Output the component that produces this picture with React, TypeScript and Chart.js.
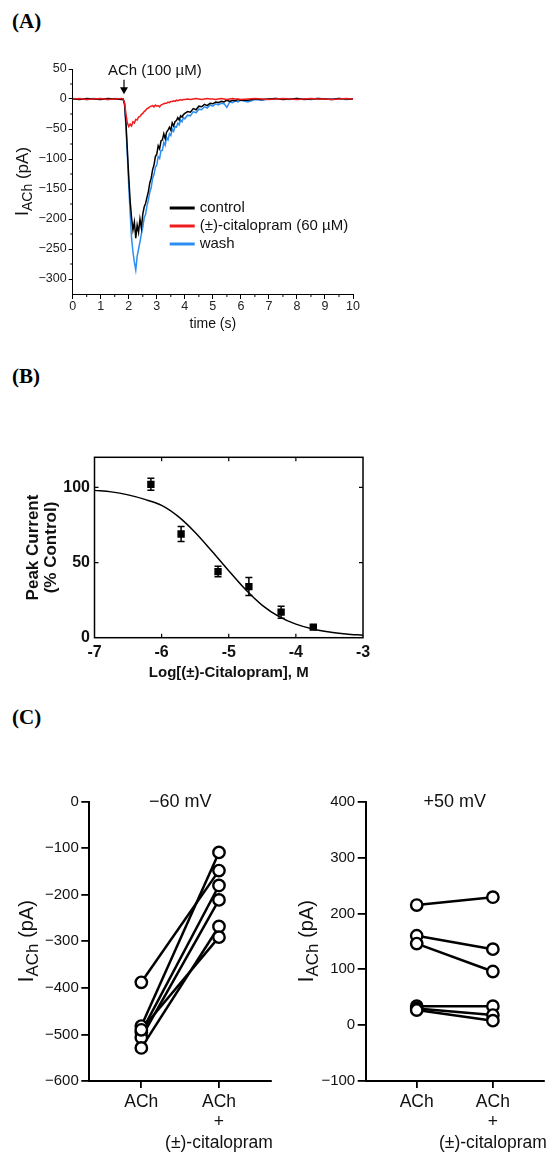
import React, { useEffect, useRef } from 'react';
import { Chart, registerables } from 'chart.js';

Chart.register(...registerables);

const SANS = '"Liberation Sans", Arial, Helvetica, sans-serif';
const SERIF = '"Liberation Serif", "Times New Roman", serif';
const INK = '#111111';

// ---------------- Panel A: current traces ----------------
const traceTimes = [
  0, 0.25, 0.5, 0.75, 1, 1.25, 1.5, 1.75, 1.8,
  1.85, 1.9, 1.95, 2, 2.05, 2.1, 2.15, 2.2, 2.25, 2.3, 2.35, 2.4, 2.45, 2.5, 2.55, 2.6, 2.65, 2.7, 2.75, 2.8, 2.85, 2.9, 2.95, 3,
  3.05, 3.1, 3.15, 3.2, 3.25, 3.3, 3.35, 3.4, 3.45, 3.5, 3.55, 3.6, 3.65, 3.7, 3.75, 3.8, 3.85, 3.9, 3.95, 4,
  4.1, 4.2, 4.3, 4.4, 4.5, 4.6, 4.7, 4.8, 4.9, 5, 5.1, 5.2, 5.3, 5.4, 5.5, 5.6, 5.7, 5.8, 5.9, 6,
  6.25, 6.5, 6.75, 7, 7.25, 7.5, 7.75, 8, 8.25, 8.5, 8.75, 9, 9.25, 9.5, 9.75, 10,
];
const controlTrace = [
  0, -1, 1, 0, -1, 1, 0, -1, 0,
  -8, -40, -85, -130, -170, -198, -218, -205, -232, -210, -222, -200, -215, -192, -180, -174, -164, -154, -140, -132, -118, -110, -96, -92,
  -78, -83, -70, -68, -58, -66, -55, -52, -47, -52, -40, -45, -38, -36, -31, -35, -28, -30, -26, -24,
  -21, -22, -16, -18, -12, -13, -9, -11, -7, -8, -5, -6, -4, -5, -2, -4, -2, -3, -1, -2,
  -2, 0, -1, 0, 1, -1, 0, 1, -1, 0, 1, 0, -1, 1, 0, 0,
];
const citalopramTrace = [
  0, 1, -1, 0, 1, -1, 0, 1, 0,
  -6, -25, -40, -46, -42, -45, -38, -40, -34, -35, -30, -29, -26, -24, -21, -19, -16, -15, -13, -12, -11, -13, -10, -12,
  -11, -13, -10, -9, -8, -7, -7, -5, -6, -4, -4, -3, -4, -2, -3, -2, -1, -2, -1, -1,
  0, -1, 0, 1, 0, -1, 0, 1, 0, 0, -1, 0, 1, 0, -1, 0, 1, 0, 0, -1,
  0, 1, 0, -1, 0, 1, 0, -1, 0, 1, 0, 0, -1, 0, 1, 0,
];
const washTrace = [
  1, 0, -1, 1, 0, -1, 1, 0, 0,
  -10, -45, -95, -145, -190, -232, -255, -272, -285, -262, -250, -238, -225, -214, -198, -192, -178, -168, -155, -148, -132, -126, -114, -110,
  -96, -99, -86, -86, -72, -77, -64, -68, -58, -61, -50, -54, -46, -47, -40, -43, -35, -38, -31, -33,
  -27, -28, -21, -23, -17, -18, -13, -15, -10, -12, -8, -10, -7, -8, -14, -5, -6, -3, -5, -2,
  -5, -1, -2, 0, 1, 0, -1, 1, 0, -1, 1, 0, 0, 1, -1, 0,
];
const traceNames = ['control', '(±)-citalopram (60 µM)', 'wash'];
const traceColors = ['#000000', '#ee1c1c', '#2b8ef0'];
const stimulusTime = 1.83;
const stimulusLabel = 'ACh (100 µM)';

// ---------------- Panel B: concentration-response ----------------
const logConc = [-6.16, -5.71, -5.16, -4.7, -4.22, -3.74];
const peakMean = [102, 69, 44, 34, 17, 7];
const peakSem = [4, 5, 3.5, 6, 4, 1.5];
const fitLog = [-7, -6.75, -6.5, -6.25, -6, -5.75, -5.5, -5.25, -5, -4.75, -4.5, -4.25, -4, -3.75, -3.5, -3.25, -3];
const fitPct = [98, 97, 95, 92, 88, 80.5, 70, 57.5, 44.5, 32, 21.5, 14, 9, 5.8, 3.8, 2.5, 1.6];

// ---------------- Panel C: paired currents ----------------
const condLabels = [['ACh'], ['ACh', '+', '(±)-citalopram']];
const negTitle = '\u221260 mV';
const negAch = [-388, -482, -495, -507, -529, -490];
const negCit = [-148, -109, -180, -211, -268, -291];
const posTitle = '+50 mV';
const posAch = [215, 160, 146, 34, 30, 27];
const posCit = [229, 136, 96, 34, 18, 8];

const uMinus = (v: number) => (v < 0 ? '\u2212' + Math.abs(v) : String(v));

const zeroPad = (s: any) => {
  s.paddingLeft = 0;
  s.paddingRight = 0;
  s.paddingTop = 0;
  s.paddingBottom = 0;
};

function yTitlePlugin(id: string, offsetFromAxis: number, main: number, sub: number, unit: number, subShift: number) {
  return {
    id,
    afterDraw(chart: any) {
      const { ctx, chartArea } = chart;
      const parts = [
        { text: 'I', size: main, shift: 0 },
        { text: 'ACh', size: sub, shift: subShift },
        { text: ' (pA)', size: unit, shift: 0 },
      ];
      ctx.save();
      ctx.fillStyle = INK;
      ctx.textBaseline = 'alphabetic';
      ctx.textAlign = 'left';
      const widths = parts.map((p) => {
        ctx.font = `${p.size}px ${SANS}`;
        return ctx.measureText(p.text).width;
      });
      const total = widths.reduce((a, b) => a + b, 0);
      ctx.translate(chartArea.left - offsetFromAxis, (chartArea.top + chartArea.bottom) / 2);
      ctx.rotate(-Math.PI / 2);
      let cx = -total / 2;
      parts.forEach((p, i) => {
        ctx.font = `${p.size}px ${SANS}`;
        ctx.fillText(p.text, cx, p.shift);
        cx += widths[i];
      });
      ctx.restore();
    },
  };
}

const panelADecor = {
  id: 'panelADecor',
  afterDraw(chart: any) {
    const { ctx, chartArea: ca, scales } = chart;
    const x = scales.x;
    const y = scales.y;
    ctx.save();
    ctx.strokeStyle = '#000';
    ctx.lineWidth = 1;
    for (let t = x.min + 0.5; t < x.max; t += 1) {
      const px = x.getPixelForValue(t);
      ctx.beginPath();
      ctx.moveTo(px, ca.bottom);
      ctx.lineTo(px, ca.bottom + 3);
      ctx.stroke();
    }
    for (let v = y.max - 25; v > y.min; v -= 50) {
      const py = y.getPixelForValue(v);
      ctx.beginPath();
      ctx.moveTo(ca.left, py);
      ctx.lineTo(ca.left - 2.5, py);
      ctx.stroke();
    }
    // stimulus arrow
    const ax = x.getPixelForValue(stimulusTime);
    const yTop = y.getPixelForValue(32);
    const yTip = y.getPixelForValue(8);
    ctx.lineWidth = 1.2;
    ctx.beginPath();
    ctx.moveTo(ax, yTop);
    ctx.lineTo(ax, yTip - 5);
    ctx.stroke();
    ctx.fillStyle = '#000';
    ctx.beginPath();
    ctx.moveTo(ax - 4, yTip - 7);
    ctx.lineTo(ax + 4, yTip - 7);
    ctx.lineTo(ax, yTip);
    ctx.closePath();
    ctx.fill();
    ctx.fillStyle = INK;
    ctx.font = `15px ${SANS}`;
    ctx.textAlign = 'left';
    ctx.textBaseline = 'middle';
    ctx.fillText(stimulusLabel, ax - 16, y.getPixelForValue(47));
    // legend
    const lx = ca.left + 97;
    const ly = ca.top + 139;
    chart.data.datasets.forEach((ds: any, i: number) => {
      const ry = ly + i * 18;
      ctx.strokeStyle = ds.borderColor;
      ctx.lineWidth = 3;
      ctx.beginPath();
      ctx.moveTo(lx, ry);
      ctx.lineTo(lx + 25, ry);
      ctx.stroke();
      ctx.fillStyle = INK;
      ctx.fillText(ds.label, lx + 30, ry);
    });
    ctx.restore();
  },
};

function buildA() {
  const series = [controlTrace, citalopramTrace, washTrace];
  const orders = [1, 0, 2];
  return {
    type: 'line',
    data: {
      datasets: series.map((vals, i) => ({
        label: traceNames[i],
        data: traceTimes.map((t, k) => ({ x: t, y: vals[k] })),
        borderColor: traceColors[i],
        borderWidth: 1.5,
        pointRadius: 0,
        tension: 0,
        fill: false,
        order: orders[i],
      })),
    },
    options: {
      animation: false,
      responsive: false,
      maintainAspectRatio: false,
      layout: { padding: { left: 0, top: 19, right: 27, bottom: 0 } },
      plugins: { legend: { display: false }, tooltip: { enabled: false } },
      scales: {
        x: {
          type: 'linear',
          min: 0,
          max: 10,
          ticks: { stepSize: 1, font: { family: SANS, size: 12.5 }, color: '#222', padding: 0, maxRotation: 0, autoSkip: false },
          grid: { display: true, drawOnChartArea: false, drawTicks: true, tickLength: 5, color: '#000', lineWidth: 1 },
          border: { display: true, color: '#000', width: 1 },
          title: { display: true, text: 'time (s)', font: { family: SANS, size: 14 }, color: INK, padding: { top: 0, bottom: 17.6 } },
          afterFit: (s: any) => { s.height = 56; zeroPad(s); },
        },
        y: {
          type: 'linear',
          min: -325,
          max: 50,
          afterBuildTicks: (s: any) => { s.ticks = s.ticks.filter((t: any) => t.value % 50 === 0); },
          ticks: { stepSize: 50, font: { family: SANS, size: 12.5 }, color: '#222', padding: 2, callback: (v: any) => uMinus(Number(v)) },
          grid: { display: true, drawOnChartArea: false, drawTicks: true, tickLength: 4, color: '#000', lineWidth: 1 },
          border: { display: true, color: '#000', width: 1 },
          afterFit: (s: any) => { s.width = 72.7; zeroPad(s); },
        },
      },
    },
    plugins: [panelADecor, yTitlePlugin('yTitleA', 44.5, 18, 14, 17, 4)],
  };
}

const panelBDecor = {
  id: 'panelBDecor',
  beforeDatasetsDraw(chart: any) {
    const { ctx, scales } = chart;
    const x = scales.x;
    const y = scales.y;
    ctx.save();
    ctx.strokeStyle = '#000';
    ctx.lineWidth = 1.5;
    logConc.forEach((lc, i) => {
      const px = x.getPixelForValue(lc);
      const y1 = y.getPixelForValue(peakMean[i] - peakSem[i]);
      const y2 = y.getPixelForValue(peakMean[i] + peakSem[i]);
      ctx.beginPath();
      ctx.moveTo(px, y1);
      ctx.lineTo(px, y2);
      ctx.moveTo(px - 3.5, y1);
      ctx.lineTo(px + 3.5, y1);
      ctx.moveTo(px - 3.5, y2);
      ctx.lineTo(px + 3.5, y2);
      ctx.stroke();
    });
    ctx.restore();
  },
  afterDraw(chart: any) {
    const { ctx, chartArea: ca, scales } = chart;
    const x = scales.x;
    const y = scales.y;
    ctx.save();
    ctx.strokeStyle = '#000';
    ctx.lineWidth = 1.5;
    ctx.strokeRect(ca.left, ca.top, ca.right - ca.left, ca.bottom - ca.top);
    ctx.lineWidth = 1.2;
    x.ticks.forEach((t: any) => {
      if (t.value <= x.min || t.value >= x.max) return;
      const px = x.getPixelForValue(t.value);
      ctx.beginPath();
      ctx.moveTo(px, ca.bottom);
      ctx.lineTo(px, ca.bottom - 4);
      ctx.moveTo(px, ca.top);
      ctx.lineTo(px, ca.top + 4);
      ctx.stroke();
    });
    y.ticks.forEach((t: any) => {
      if (t.value <= y.min || t.value >= y.max) return;
      const py = y.getPixelForValue(t.value);
      ctx.beginPath();
      ctx.moveTo(ca.left, py);
      ctx.lineTo(ca.left + 4, py);
      ctx.moveTo(ca.right, py);
      ctx.lineTo(ca.right - 4, py);
      ctx.stroke();
    });
    ctx.restore();
  },
};

function buildB() {
  return {
    type: 'line',
    data: {
      datasets: [
        {
          label: 'data',
          data: logConc.map((v, i) => ({ x: v, y: peakMean[i] })),
          showLine: false,
          pointStyle: 'rect',
          pointRadius: 5.2,
          pointBackgroundColor: '#000',
          pointBorderColor: '#000',
          pointBorderWidth: 0,
          order: 0,
        },
        {
          label: 'fit',
          data: fitLog.map((v, i) => ({ x: v, y: fitPct[i] })),
          borderColor: '#000',
          borderWidth: 1.5,
          pointRadius: 0,
          cubicInterpolationMode: 'monotone',
          fill: false,
          order: 1,
        },
      ],
    },
    options: {
      animation: false,
      responsive: false,
      maintainAspectRatio: false,
      layout: { padding: { left: 0, top: 37.3, right: 27, bottom: 0 } },
      plugins: { legend: { display: false }, tooltip: { enabled: false } },
      scales: {
        x: {
          type: 'linear',
          min: -7,
          max: -3,
          ticks: { stepSize: 1, font: { family: SANS, size: 16, weight: 'bold' }, color: INK, padding: 5.7, maxRotation: 0, autoSkip: false },
          grid: { display: false, drawTicks: false },
          border: { display: false },
          title: { display: true, text: 'Log[(±)-Citalopram], M', font: { family: SANS, size: 15, weight: 'bold' }, color: INK, padding: { top: 0, bottom: 8 } },
          afterFit: (s: any) => { s.height = 52.3; zeroPad(s); },
        },
        y: {
          type: 'linear',
          min: 0,
          max: 120,
          afterBuildTicks: (s: any) => { s.ticks = s.ticks.filter((t: any) => t.value % 50 === 0); },
          ticks: { stepSize: 50, font: { family: SANS, size: 16, weight: 'bold' }, color: INK, padding: 4.5 },
          grid: { display: false, drawTicks: false },
          border: { display: false },
          title: { display: true, text: ['Peak Current', '(% Control)'], font: { family: SANS, size: 17, weight: 'bold', lineHeight: 1.1 }, color: INK, padding: { top: 23.6, bottom: 0 } },
          afterFit: (s: any) => { s.width = 94.5; zeroPad(s); },
        },
      },
    },
    plugins: [panelBDecor],
  };
}

function buildC(ach: number[], cit: number[], yMin: number, yMax: number, title: string, yWidth: number, padRight: number, titleOffset: number) {
  const titlePlugin = {
    id: 'cTitle',
    afterDraw(chart: any) {
      const { ctx, chartArea: ca } = chart;
      ctx.save();
      ctx.fillStyle = INK;
      ctx.font = `18px ${SANS}`;
      ctx.textAlign = 'center';
      ctx.textBaseline = 'middle';
      ctx.fillText(title, (ca.left + ca.right) / 2, ca.top);
      ctx.restore();
    },
  };
  const lineSets = ach.map((a, i) => ({
    label: 'cell ' + (i + 1),
    data: [{ x: 0, y: a }, { x: 1, y: cit[i] }],
    borderColor: '#000',
    borderWidth: 2.5,
    pointRadius: 0,
    showLine: true,
    fill: false,
    clip: false,
    order: 1,
  }));
  const pointSet = {
    label: 'points',
    data: [...ach.map((a) => ({ x: 0, y: a })), ...cit.map((c) => ({ x: 1, y: c }))],
    showLine: false,
    pointRadius: 5.7,
    pointBorderWidth: 2.4,
    pointBackgroundColor: '#ffffff',
    pointBorderColor: '#000',
    clip: false,
    order: 0,
  };
  return {
    type: 'line',
    data: { datasets: [pointSet, ...lineSets] },
    options: {
      animation: false,
      responsive: false,
      maintainAspectRatio: false,
      layout: { padding: { left: 0, top: 21.7, right: padRight, bottom: 0 } },
      plugins: { legend: { display: false }, tooltip: { enabled: false } },
      scales: {
        x: {
          type: 'linear',
          min: -0.67,
          max: 1.67,
          afterBuildTicks: (s: any) => { s.ticks = condLabels.map((_, i) => ({ value: i })); },
          ticks: {
            font: { family: SANS, size: 17.5, lineHeight: 1.18 },
            color: INK,
            padding: 3.4,
            maxRotation: 0,
            autoSkip: false,
            callback: (v: any) => condLabels[Number(v)] ?? '',
          },
          grid: { display: true, drawOnChartArea: false, drawTicks: true, tickLength: 7, color: '#000', lineWidth: 1.8 },
          border: { display: true, color: '#000', width: 2 },
          afterFit: (s: any) => { s.height = 72; zeroPad(s); },
        },
        y: {
          type: 'linear',
          min: yMin,
          max: yMax,
          ticks: { stepSize: 100, font: { family: SANS, size: 15 }, color: INK, padding: 2.5, callback: (v: any) => uMinus(Number(v)) },
          grid: { display: true, drawOnChartArea: false, drawTicks: true, tickLength: 8, color: '#000', lineWidth: 1.8 },
          border: { display: true, color: '#000', width: 2 },
          afterFit: (s: any) => { s.width = yWidth; zeroPad(s); },
        },
      },
    },
    plugins: [titlePlugin, yTitlePlugin('yTitleC', titleOffset, 22, 17, 20, 5)],
  };
}

function ChartBox({ left, top, width, height, build }: { left: number; top: number; width: number; height: number; build: () => any }) {
  const ref = useRef<HTMLCanvasElement>(null);
  useEffect(() => {
    if (!ref.current) return;
    const chart = new Chart(ref.current, build());
    return () => chart.destroy();
  }, []);
  return (
    <canvas
      ref={ref}
      width={width}
      height={height}
      style={{ position: 'absolute', left, top, width, height }}
    />
  );
}

const panelLabel = (text: string, top: number) => (
  <div
    style={{
      position: 'absolute',
      left: 12,
      top,
      font: `bold 21px ${SERIF}`,
      lineHeight: '21px',
      color: '#000',
    }}
  >
    {text}
  </div>
);

export default function App() {
  return (
    <div style={{ position: 'absolute', left: 0, top: 0, width: 552, height: 1153, background: '#fff', overflow: 'hidden' }}>
      {panelLabel('(A)', 11)}
      {panelLabel('(B)', 366)}
      {panelLabel('(C)', 707)}
      <ChartBox left={0} top={50} width={380} height={300} build={buildA} />
      <ChartBox left={0} top={420} width={390} height={270} build={buildB} />
      <ChartBox left={0} top={780} width={280} height={373} build={() => buildC(negAch, negCit, -600, 0, negTitle, 89.3, 9, 56.3)} />
      <ChartBox left={280} top={780} width={272} height={373} build={() => buildC(posAch, posCit, -100, 400, posTitle, 85.7, 5.3, 52.7)} />
    </div>
  );
}
